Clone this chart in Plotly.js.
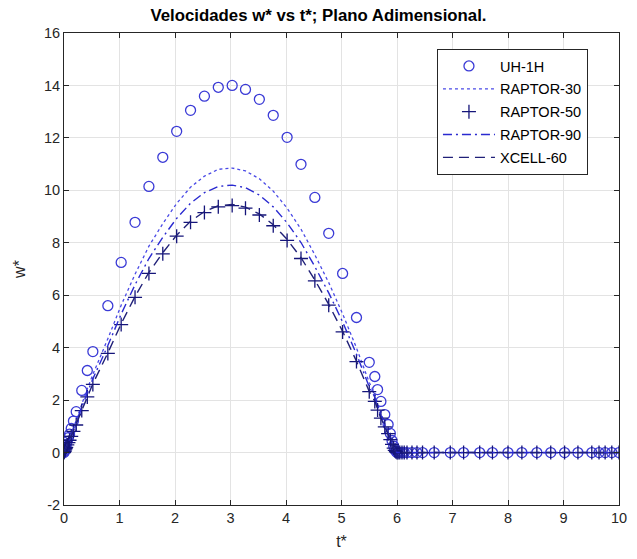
<!DOCTYPE html>
<html>
<head>
<meta charset="utf-8">
<script src="https://cdn.plot.ly/plotly-3.0.1.min.js"></script>
<style>html,body{margin:0;padding:0;background:#fff;}#chart{width:637px;height:559px;}</style>
</head>
<body>
<div id="chart"></div>
<script>
// time samples (t*)
var tStar = [0,0.005,0.01,0.02,0.03,0.04,0.06,0.08,0.10,0.13,
  0.17,0.22,0.32,0.42,0.52,0.79,1.03,1.28,1.53,1.78,
  2.03,2.28,2.53,2.78,3.03,3.27,3.52,3.77,4.02,4.27,
  4.52,4.77,5.02,5.27,5.50,5.60,5.65,5.71,5.78,5.84,
  5.88,5.91,5.94,5.96,5.98,6.00,6.02,6.05,6.09,6.13,
  6.18,6.27,6.36,6.46,6.67,6.96,7.20,7.49,7.72,8.00,
  8.25,8.52,8.77,9.02,9.26,9.51,9.64,9.75,9.87,10.0];

var uh1h = [0,0.04,0.08,0.15,0.22,0.30,0.43,0.57,0.70,0.92,
  1.20,1.56,2.37,3.13,3.85,5.60,7.25,8.78,10.15,11.26,
  12.25,13.05,13.59,13.93,14.00,13.85,13.47,12.86,12.02,10.99,
  9.73,8.36,6.83,5.15,3.44,2.90,2.40,1.95,1.45,1.07,
  0.73,0.46,0.25,0.12,0.05,0,0,0,0,0,
  0,0,0,0,0,0,0,0,0,0,
  0,0,0,0,0,0,0,0,0,0];

var raptor30 = [0,0.03,0.06,0.12,0.17,0.23,0.33,0.44,0.54,0.71,
  0.93,1.21,1.84,2.43,2.98,4.34,5.62,6.80,7.87,8.73,
  9.50,10.12,10.54,10.80,10.85,10.74,10.44,9.97,9.32,8.52,
  7.54,6.48,5.29,3.99,2.67,2.25,1.86,1.51,1.12,0.83,
  0.57,0.36,0.19,0.09,0.04,0,0,0,0,0,
  0,0,0,0,0,0,0,0,0,0,
  0,0,0,0,0,0,0,0,0,0];

var raptor50 = [0,0.03,0.05,0.10,0.15,0.20,0.29,0.38,0.47,0.62,
  0.81,1.05,1.60,2.12,2.60,3.78,4.88,5.92,6.83,7.58,
  8.25,8.78,9.15,9.37,9.42,9.32,9.06,8.65,8.09,7.40,
  6.55,5.62,4.60,3.47,2.32,1.95,1.62,1.31,0.98,0.72,
  0.49,0.31,0.17,0.08,0.03,0,0,0,0,0,
  0,0,0,0,0,0,0,0,0,0,
  0,0,0,0,0,0,0,0,0,0];

var raptor90 = [0,0.03,0.06,0.11,0.16,0.22,0.31,0.42,0.51,0.67,
  0.87,1.14,1.73,2.28,2.81,4.08,5.28,6.40,7.40,8.21,
  8.93,9.51,9.91,10.15,10.20,10.10,9.82,9.37,8.76,8.01,
  7.09,6.09,4.98,3.75,2.51,2.11,1.75,1.42,1.06,0.78,
  0.53,0.34,0.18,0.09,0.04,0,0,0,0,0,
  0,0,0,0,0,0,0,0,0,0,
  0,0,0,0,0,0,0,0,0,0];

var xcell60 = [0,0.03,0.05,0.10,0.15,0.20,0.29,0.38,0.48,0.62,
  0.82,1.06,1.61,2.13,2.62,3.80,4.91,5.95,6.87,7.62,
  8.29,8.82,9.19,9.41,9.46,9.36,9.10,8.69,8.13,7.43,
  6.58,5.65,4.62,3.48,2.33,1.96,1.63,1.32,0.99,0.72,
  0.49,0.31,0.17,0.08,0.03,0,0,0,0,0,
  0,0,0,0,0,0,0,0,0,0,
  0,0,0,0,0,0,0,0,0,0];

var seriesNames = ['UH-1H','RAPTOR-30','RAPTOR-50','RAPTOR-90','XCELL-60'];
var xTicks = [0,1,2,3,4,5,6,7,8,9,10];
var yTicks = [-2,0,2,4,6,8,10,12,14,16];

var font = 'Liberation Sans, Arial, sans-serif';

var traces = [
  {x: tStar, y: uh1h, name: seriesNames[0], legendgroup: 'a', mode: 'markers', type: 'scatter',
   marker: {symbol: 'circle-open', size: 10, color: '#3a3ad6', line: {width: 1.3, color: '#3a3ad6'}}},
  {x: tStar, y: raptor30, name: seriesNames[1], legendgroup: 'b', mode: 'lines', type: 'scatter',
   line: {dash: 'dot', width: 1.3, color: '#4a4ae6'}},
  {x: tStar, y: raptor50, name: seriesNames[2], legendgroup: 'c', mode: 'markers', type: 'scatter',
   marker: {symbol: 'cross-thin-open', size: 10, color: '#15157a', line: {width: 1.3, color: '#15157a'}}},
  {x: tStar, y: raptor90, name: seriesNames[3], legendgroup: 'd', mode: 'lines', type: 'scatter',
   line: {dash: '9px,4px,2px,4px', width: 1.4, color: '#2a2ad0'}},
  {x: tStar, y: xcell60, name: seriesNames[4], legendgroup: 'e', mode: 'lines', type: 'scatter',
   line: {dash: '10px,6px', width: 1.4, color: '#202078'}}
];

var layout = {
  width: 637, height: 559,
  margin: {l: 64, r: 18, t: 33, b: 54},
  paper_bgcolor: '#ffffff', plot_bgcolor: '#ffffff',
  font: {family: font, size: 14, color: '#262626'},
  title: {text: '<b>Velocidades w* vs t*; Plano Adimensional.</b>', x: 0.5, xanchor: 'center', y: 0.973, yanchor: 'middle',
          font: {family: font, size: 16.8, color: '#000'}},
  xaxis: {range: [0, 10], tickvals: xTicks, ticktext: xTicks.map(String),
          showgrid: true, gridcolor: '#e3e3e3', gridwidth: 1, zeroline: false,
          showline: true, linecolor: '#262626', linewidth: 1, mirror: 'ticks',
          ticks: 'inside', ticklen: 5, tickcolor: '#262626',
          tickfont: {size: 14.5, color: '#262626'},
          title: {text: 't*', font: {size: 16, color: '#262626'}, standoff: 10}},
  yaxis: {range: [-2, 16], tickvals: yTicks, ticktext: yTicks.map(String),
          showgrid: true, gridcolor: '#e3e3e3', gridwidth: 1, zeroline: false,
          showline: true, linecolor: '#262626', linewidth: 1, mirror: 'ticks',
          ticks: 'inside', ticklen: 5, tickcolor: '#262626',
          tickfont: {size: 14.5, color: '#262626'},
          title: {text: 'w*', font: {size: 16, color: '#262626'}, standoff: 14}},
  legend: {x: 0.672, y: 0.966, xanchor: 'left', yanchor: 'top',
           bgcolor: '#ffffff', bordercolor: '#262626', borderwidth: 1,
           font: {family: font, size: 14.5, color: '#000'}, tracegroupgap: 1,
           itemwidth: 52},
  showlegend: true
};

Plotly.newPlot('chart', traces, layout, {displayModeBar: false, staticPlot: true});
</script>
</body>
</html>
